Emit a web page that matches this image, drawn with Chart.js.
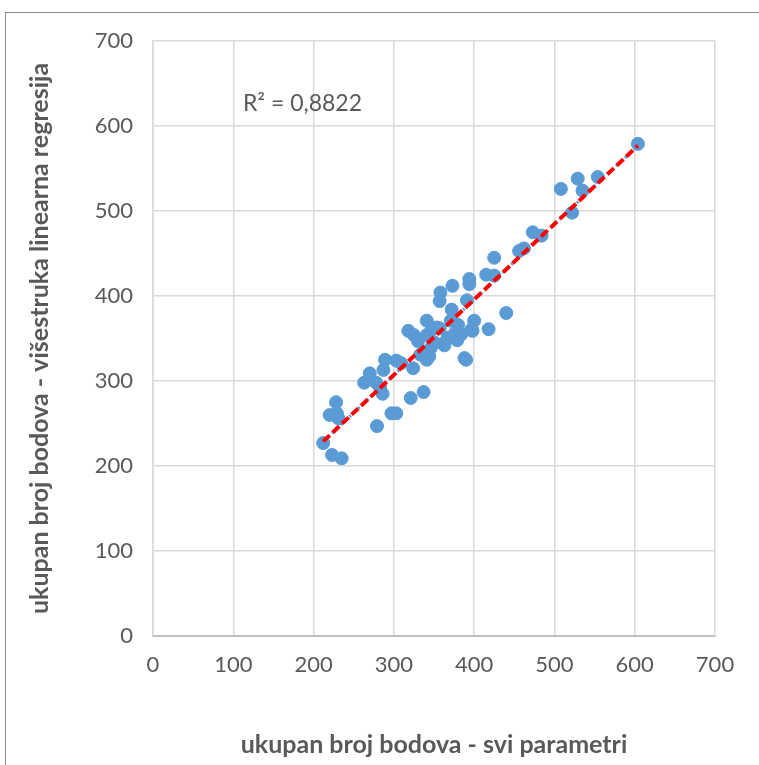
<!DOCTYPE html>
<html>
<head>
<meta charset="utf-8">
<script src="https://cdn.jsdelivr.net/npm/chart.js@4.4.1/dist/chart.umd.min.js"></script>
<style>
  html, body { margin: 0; padding: 0; background: #ffffff; }
  #wrap { position: relative; width: 759px; height: 765px; overflow: hidden; }
  #frame { position: absolute; left: 5px; top: 12px; width: 800px; height: 800px; border: 1px solid #8c8c8c; box-sizing: border-box; }
  canvas { position: absolute; left: 0; top: 0; }
</style>
</head>
<body>
<div id="wrap">
  <div id="frame"></div>
  <canvas id="c" width="759" height="765"></canvas>
</div>
<script>
// x: ukupan broj bodova - svi parametri ; y: višestruka linearna regresija
const xValues = [212, 220, 228, 229, 231, 223, 235, 263, 270, 278, 279, 283, 286, 287, 289, 297, 303, 303, 309, 321,
                 324, 318, 325, 330, 337, 341, 341, 341, 346, 347, 351, 357, 357, 358, 363, 367, 371, 372, 373, 376,
                 379, 388, 390, 391, 394, 394, 397, 400, 398, 418, 440, 415, 425, 425, 456, 462, 473, 484, 508, 522,
                 529, 535, 554, 604, 333, 344, 362, 384, 380, 353];
const yValues = [227, 260, 275, 262, 256, 213, 209, 298, 309, 298, 247, 292, 285, 313, 325, 262, 262, 324, 321, 280,
                 315, 359, 354, 347, 287, 354, 371, 325, 339, 360, 345, 362, 394, 404, 342, 351, 371, 384, 412, 356,
                 348, 327, 325, 395, 420, 414, 361, 371, 359, 361, 380, 425, 445, 424, 453, 456, 475, 471, 526, 498,
                 538, 524, 540, 579, 331, 329, 344, 355, 366, 363];
const trendX = [212, 604];
const trendY = [229, 577];
const xTicks = [0, 100, 200, 300, 400, 500, 600, 700];
const yTicks = [0, 100, 200, 300, 400, 500, 600, 700];
const r2Label = 'R² = 0,8822';
const r2Pos = [112, 626];

const points = xValues.map((x, i) => ({ x: x, y: yValues[i] }));
const trend = trendX.map((x, i) => ({ x: x, y: trendY[i] }));

const labelColor = '#595959';
const fontFam = 'Lato, "Open Sans", sans-serif';

const r2Plugin = {
  id: 'r2',
  afterDatasetsDraw(chart) {
    const ctx = chart.ctx;
    const xs = chart.scales.x, ys = chart.scales.y;
    ctx.save();
    ctx.font = '23px ' + fontFam;
    ctx.fillStyle = labelColor;
    ctx.textAlign = 'left';
    ctx.textBaseline = 'middle';
    ctx.fillText(r2Label, xs.getPixelForValue(r2Pos[0]), ys.getPixelForValue(r2Pos[1]));
    ctx.restore();
  }
};

new Chart(document.getElementById('c'), {
  type: 'scatter',
  data: {
    datasets: [
      {
        label: 'trend-blue',
        type: 'line',
        data: trend,
        borderColor: '#5B9BD5',
        borderWidth: 3,
        borderDash: [2, 4],
        pointRadius: 0,
        fill: false,
        order: 1
      },
      {
        label: 'trend-red',
        type: 'line',
        data: trend,
        borderColor: '#ff0000',
        borderWidth: 4,
        borderDash: [9, 4],
        pointRadius: 0,
        fill: false,
        order: 0
      },
      {
        label: 'podaci',
        data: points,
        backgroundColor: '#5B9BD5',
        borderColor: '#5B9BD5',
        pointRadius: 6.5,
        pointHoverRadius: 6.5,
        order: 2
      }
    ]
  },
  options: {
    responsive: false,
    animation: false,
    events: [],
    layout: { padding: { top: 41, right: 44, left: 0, bottom: 0 } },
    plugins: { legend: { display: false }, tooltip: { enabled: false } },
    scales: {
      x: {
        type: 'linear',
        min: 0, max: 700,
        afterBuildTicks: (axis) => { axis.ticks = xTicks.map(v => ({ value: v })); },
        afterFit: (axis) => { axis.height = 129; },
        grid: { color: '#d9d9d9', lineWidth: 1.5, drawTicks: false },
        border: { color: '#bfbfbf', width: 2 },
        ticks: { color: labelColor, font: { family: fontFam, size: 22 }, padding: 16 },
        title: {
          display: true,
          text: 'ukupan broj bodova - svi parametri',
          color: labelColor,
          font: { family: fontFam, size: 25, weight: 'bold' },
          padding: { top: 0, bottom: 5 }
        }
      },
      y: {
        type: 'linear',
        min: 0, max: 700,
        afterBuildTicks: (axis) => { axis.ticks = yTicks.map(v => ({ value: v })); },
        afterFit: (axis) => { axis.width = 153; },
        grid: { color: '#d9d9d9', lineWidth: 1.5, drawTicks: false },
        border: { color: '#d9d9d9', width: 1.5 },
        ticks: { color: labelColor, font: { family: fontFam, size: 22 }, padding: 20 },
        title: {
          display: true,
          text: 'ukupan broj bodova - višestruka linearna regresija',
          color: labelColor,
          font: { family: fontFam, size: 25, weight: 'bold' },
          padding: { top: 25, bottom: 0 }
        }
      }
    }
  },
  plugins: [r2Plugin]
});
</script>
</body>
</html>
